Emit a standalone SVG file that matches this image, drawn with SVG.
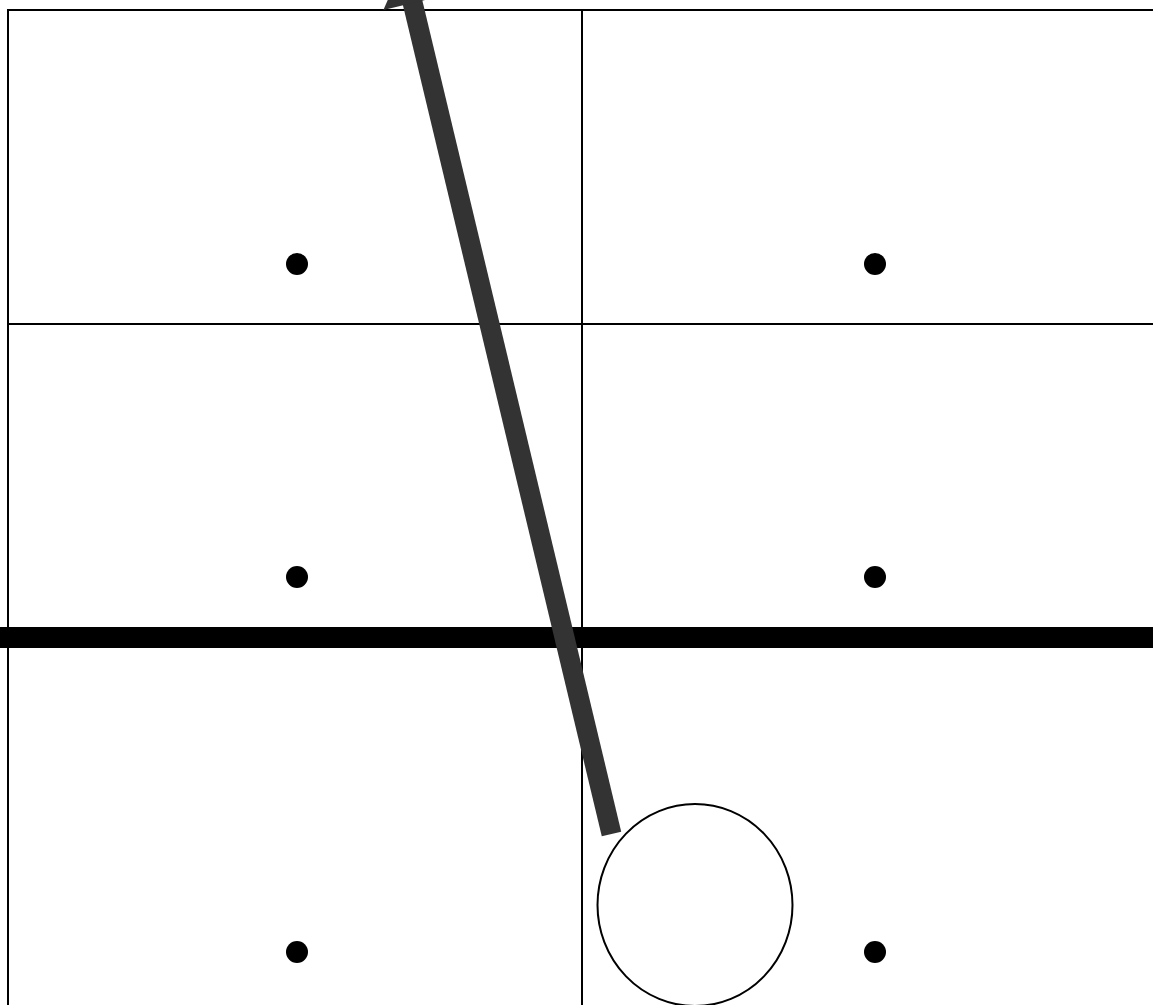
<svg xmlns="http://www.w3.org/2000/svg" width="1153" height="1005" viewBox="0 0 1153 1005">
<style>
.grid{stroke:#000;stroke-width:2;fill:none}
.dot{fill:#000}
.node{fill:#fff;stroke:#000;stroke-width:2}
.conn{stroke:#333;stroke-width:20;fill:none}
.head{fill:#333}
</style>
<rect width="1153" height="1005" fill="#fff"/>
<g id="grid">
<line class="grid" x1="8" y1="10" x2="1153" y2="10"/>
<line class="grid" x1="8" y1="324" x2="1153" y2="324"/>
<line class="grid" x1="8" y1="9" x2="8" y2="1005"/>
<line class="grid" x1="582" y1="9" x2="582" y2="1005"/>
<line x1="0" y1="637.5" x2="1153" y2="637.5" stroke="#000" stroke-width="21"/>
</g>
<g id="dots">
<circle class="dot" cx="297" cy="264" r="11"/>
<circle class="dot" cx="875" cy="264" r="11"/>
<circle class="dot" cx="297" cy="577" r="11"/>
<circle class="dot" cx="875" cy="577" r="11"/>
<circle class="dot" cx="297" cy="952" r="11"/>
<circle class="dot" cx="875" cy="952" r="11"/>
</g>
<g id="node-circle">
<ellipse class="node" cx="695" cy="905" rx="97.5" ry="101"/>
</g>
<g id="connectors">
<line class="conn" x1="611.5" y1="834" x2="411" y2="-4"/>
<polygon class="head" points="383.4,10 441.8,-4 403.3,-36"/>
</g>
</svg>
